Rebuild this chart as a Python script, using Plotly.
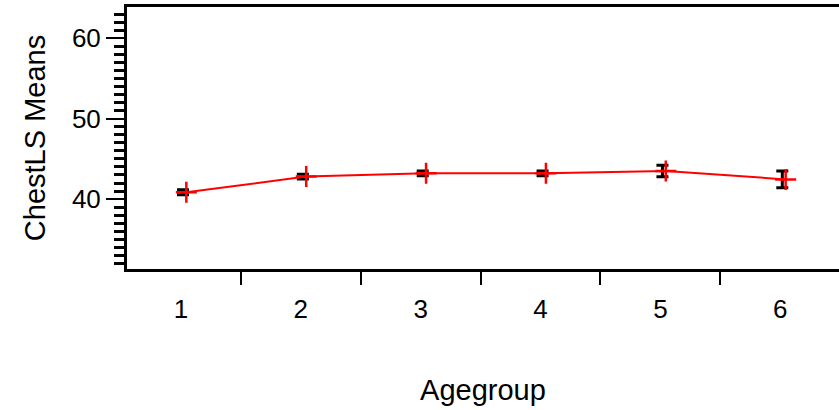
import plotly.graph_objects as go

categories = [1, 2, 3, 4, 5, 6]
tick_labels = ["1", "2", "3", "4", "5", "6"]
means = [40.85, 42.8, 43.2, 43.2, 43.5, 42.45]
errors = [0.3, 0.3, 0.3, 0.3, 0.72, 1.03]

# small horizontal dodge between error bars and the mean markers (style)
ERR_SHIFT = 0.017
PT_SHIFT = 0.045

FONT = "Liberation Sans, Arial, sans-serif"

fig = go.Figure()
fig.add_trace(go.Scatter(
    x=[c + ERR_SHIFT for c in categories], y=means,
    mode="markers",
    marker=dict(size=1, color="rgba(0,0,0,0)"),
    error_y=dict(type="data", array=errors, visible=True,
                 color="black", thickness=3, width=6),
    showlegend=False, hoverinfo="skip",
))
fig.add_trace(go.Scatter(
    x=[c + PT_SHIFT for c in categories], y=means,
    mode="lines+markers",
    line=dict(color="red", width=2),
    marker=dict(symbol="cross-thin", size=15,
                line=dict(color="red", width=2.5), color="red"),
    showlegend=False,
))

fig.update_layout(
    width=839, height=410,
    margin=dict(l=127, r=0, t=7, b=141),
    paper_bgcolor="white", plot_bgcolor="white",
    font=dict(family=FONT, color="black", size=26),
)
fig.update_xaxes(
    range=[0.55, 6.49],
    tickmode="array", tickvals=categories, ticktext=tick_labels,
    ticks="outside", ticklen=15, tickcolor="rgba(0,0,0,0)",
    tickfont=dict(size=26),
    showline=True, linecolor="black", linewidth=3, mirror=True,
    showgrid=False, zeroline=False,
    minor=dict(tick0=0.5, dtick=1, ticks="outside", ticklen=13,
               tickwidth=2, tickcolor="black", showgrid=False),
    title=dict(text="Agegroup", font=dict(size=29), standoff=57),
)
fig.update_yaxes(
    range=[31.3, 63.9],
    tickmode="linear", tick0=40, dtick=10,
    ticks="outside", ticklen=18, tickwidth=2, tickcolor="black",
    tickfont=dict(size=26),
    showline=True, linecolor="black", linewidth=3,
    showgrid=False, zeroline=False,
    minor=dict(dtick=1, ticks="outside", ticklen=10, tickwidth=3,
               tickcolor="black", showgrid=False),
    title=dict(text="ChestLS Means", font=dict(size=29), standoff=18),
)

fig.write_html("out.html")
